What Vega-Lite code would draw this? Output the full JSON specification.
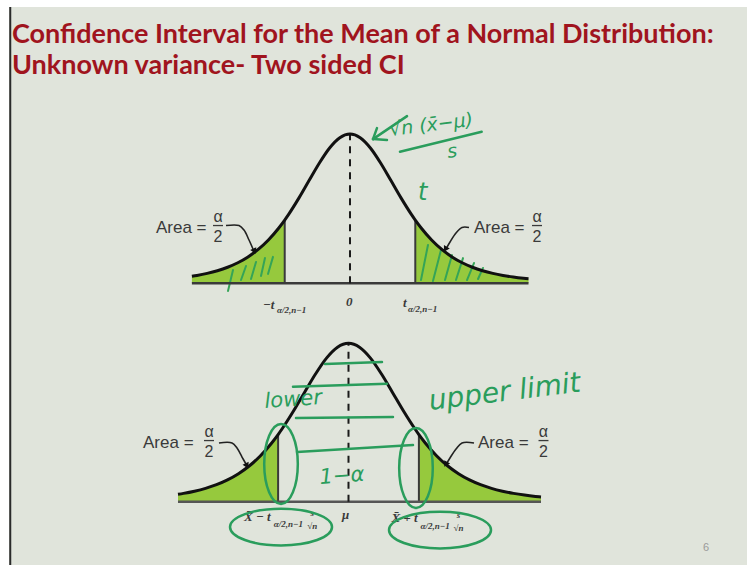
{
  "$schema": "https://vega.github.io/schema/vega-lite/v6.json",
  "width": 738,
  "height": 558,
  "autosize": {"type": "none"},
  "padding": {"left": 9, "top": 7, "right": 0, "bottom": 0},
  "background": "#ffffff",
  "config": {"view": {"fill": "#e0e4db", "stroke": null}},
  "title": {
    "text": ["Confidence Interval for the Mean of a Normal Distribution:", "Unknown variance- Two sided CI"],
    "anchor": "start",
    "frame": "group",
    "orient": "top",
    "offset": -95,
    "baseline": "alphabetic",
    "dx": 3,
    "font": "Lato",
    "fontSize": 27,
    "fontWeight": "bold",
    "color": "#a0141e",
    "lineHeight": 31
  },
  "datasets": {
    "curve": [
      {"x": -3.1, "y": 0.0468}, {"x": -3.0, "y": 0.0525}, {"x": -2.8, "y": 0.0664}, {"x": -2.6, "y": 0.0843},
      {"x": -2.4, "y": 0.1075}, {"x": -2.2, "y": 0.1377}, {"x": -2.0, "y": 0.1768}, {"x": -1.8, "y": 0.2269},
      {"x": -1.6, "y": 0.2903}, {"x": -1.4, "y": 0.369}, {"x": -1.28, "y": 0.4239}, {"x": -1.2, "y": 0.4636},
      {"x": -1.0, "y": 0.5724}, {"x": -0.8, "y": 0.69}, {"x": -0.6, "y": 0.8062}, {"x": -0.4, "y": 0.9066},
      {"x": -0.2, "y": 0.9754}, {"x": 0, "y": 1}, {"x": 0.2, "y": 0.9754}, {"x": 0.4, "y": 0.9066},
      {"x": 0.6, "y": 0.8062}, {"x": 0.8, "y": 0.69}, {"x": 1.0, "y": 0.5724}, {"x": 1.2, "y": 0.4636},
      {"x": 1.28, "y": 0.4239}, {"x": 1.4, "y": 0.369}, {"x": 1.6, "y": 0.2903}, {"x": 1.8, "y": 0.2269},
      {"x": 2.0, "y": 0.1768}, {"x": 2.2, "y": 0.1377}, {"x": 2.4, "y": 0.1075}, {"x": 2.6, "y": 0.0843},
      {"x": 2.8, "y": 0.0664}, {"x": 3.0, "y": 0.0525}, {"x": 3.2, "y": 0.0418}, {"x": 3.4, "y": 0.0335},
      {"x": 3.5, "y": 0.0301}
    ],
    "topSegments": [
      {"kind": "cut", "x": -1.28, "y": 0, "x2": -1.28, "y2": 0.4239},
      {"kind": "cut", "x": 1.28, "y": 0, "x2": 1.28, "y2": 0.4239},
      {"kind": "base", "x": -3.1, "y": 0, "x2": 3.5, "y2": 0},
      {"kind": "center", "x": 0, "y": 0, "x2": 0, "y2": 1},
      {"kind": "bar", "x": -2.686, "y": 0.387, "x2": -2.49, "y2": 0.387},
      {"kind": "bar", "x": 3.569, "y": 0.387, "x2": 3.765, "y2": 0.387},
      {"kind": "hatch", "x": -2.392, "y": -0.052, "x2": -2.294, "y2": 0.089},
      {"kind": "hatch", "x": -2.137, "y": 0.022, "x2": -2.039, "y2": 0.116},
      {"kind": "hatch", "x": -1.941, "y": 0.029, "x2": -1.843, "y2": 0.143},
      {"kind": "hatch", "x": -1.745, "y": 0.049, "x2": -1.667, "y2": 0.17},
      {"kind": "hatch", "x": -1.608, "y": 0.063, "x2": -1.51, "y2": 0.177},
      {"kind": "hatch", "x": 1.392, "y": 0.022, "x2": 1.529, "y2": 0.257},
      {"kind": "hatch", "x": 1.627, "y": 0.015, "x2": 1.784, "y2": 0.223},
      {"kind": "hatch", "x": 1.863, "y": 0.022, "x2": 2.0, "y2": 0.189},
      {"kind": "hatch", "x": 2.078, "y": 0.022, "x2": 2.216, "y2": 0.169},
      {"kind": "hatch", "x": 2.294, "y": 0.022, "x2": 2.431, "y2": 0.136},
      {"kind": "hatch", "x": 2.51, "y": 0.029, "x2": 2.608, "y2": 0.103},
      {"kind": "pen", "x": 0.98, "y": 0.881, "x2": 2.582, "y2": 1.015},
      {"kind": "pen", "x": 1.118, "y": 1.12, "x2": 0.451, "y2": 0.966},
      {"kind": "pen", "x": 0.451, "y": 0.966, "x2": 0.529, "y2": 1.04},
      {"kind": "pen", "x": 0.451, "y": 0.966, "x2": 0.725, "y2": 0.96}
    ],
    "topLeaders": [
      {"side": "left", "i": 0, "x": -2.431, "y": 0.387},
      {"side": "left", "i": 1, "x": -2.176, "y": 0.387},
      {"side": "left", "i": 2, "x": -2.078, "y": 0.357},
      {"side": "left", "i": 3, "x": -1.98, "y": 0.29},
      {"side": "left", "i": 4, "x": -1.902, "y": 0.23},
      {"side": "right", "i": 0, "x": 2.333, "y": 0.374},
      {"side": "right", "i": 1, "x": 2.196, "y": 0.374},
      {"side": "right", "i": 2, "x": 2.078, "y": 0.337},
      {"side": "right", "i": 3, "x": 1.961, "y": 0.277},
      {"side": "right", "i": 4, "x": 1.882, "y": 0.23}
    ],
    "topHeads": [
      {"side": "left", "x": -1.873, "y": 0.215},
      {"side": "right", "x": 1.87, "y": 0.228}
    ],
    "topText": [
      {"kind": "area", "label": "Area =", "x": -3.804, "y": 0.337},
      {"kind": "area", "label": "Area =", "x": 2.431, "y": 0.337},
      {"kind": "frac", "label": "α", "x": -2.588, "y": 0.411},
      {"kind": "frac", "label": "2", "x": -2.588, "y": 0.277},
      {"kind": "frac", "label": "α", "x": 3.667, "y": 0.411},
      {"kind": "frac", "label": "2", "x": 3.667, "y": 0.277},
      {"kind": "math", "label": "−t", "x": -1.706, "y": -0.172},
      {"kind": "math", "label": "0", "x": -0.078, "y": -0.152},
      {"kind": "math", "label": "t", "x": 1.039, "y": -0.159},
      {"kind": "sub", "label": "α/2,n−1", "x": -1.431, "y": -0.199},
      {"kind": "sub", "label": "α/2,n−1", "x": 1.137, "y": -0.192},
      {"kind": "pen", "label": "√n (x̄−μ)", "x": 0.784, "y": 0.987},
      {"kind": "pen", "label": "s", "x": 1.922, "y": 0.839},
      {"kind": "penBig", "label": "t", "x": 1.333, "y": 0.558}
    ],
    "bottomSegments": [
      {"kind": "frame", "x": -6.15, "y": -0.3996, "x2": -6.15, "y2": 3.1231},
      {"kind": "cut", "x": -1.28, "y": 0, "x2": -1.28, "y2": 0.4239},
      {"kind": "cut", "x": 1.28, "y": 0, "x2": 1.28, "y2": 0.4239},
      {"kind": "base", "x": -3.1, "y": 0, "x2": 3.5, "y2": 0},
      {"kind": "center", "x": 0, "y": 0, "x2": 0, "y2": 1},
      {"kind": "bar", "x": -2.627, "y": 0.386, "x2": -2.445, "y2": 0.386},
      {"kind": "bar", "x": 3.455, "y": 0.386, "x2": 3.636, "y2": 0.386},
      {"kind": "pen", "x": -0.427, "y": 0.869, "x2": 0.609, "y2": 0.882},
      {"kind": "pen", "x": -1.009, "y": 0.726, "x2": 0.7, "y2": 0.745},
      {"kind": "pen", "x": -0.955, "y": 0.528, "x2": 0.809, "y2": 0.535},
      {"kind": "pen", "x": -0.936, "y": 0.314, "x2": 1.173, "y2": 0.358}
    ],
    "bottomLeaders": [
      {"side": "left", "i": 0, "x": -2.355, "y": 0.371},
      {"side": "left", "i": 1, "x": -2.118, "y": 0.371},
      {"side": "left", "i": 2, "x": -2.027, "y": 0.339},
      {"side": "left", "i": 3, "x": -1.936, "y": 0.282},
      {"side": "left", "i": 4, "x": -1.864, "y": 0.238},
      {"side": "right", "i": 0, "x": 2.282, "y": 0.371},
      {"side": "right", "i": 1, "x": 2.064, "y": 0.371},
      {"side": "right", "i": 2, "x": 1.955, "y": 0.333},
      {"side": "right", "i": 3, "x": 1.845, "y": 0.276},
      {"side": "right", "i": 4, "x": 1.791, "y": 0.245}
    ],
    "bottomHeads": [
      {"side": "left", "x": -1.848, "y": 0.226},
      {"side": "right", "x": 1.768, "y": 0.236}
    ],
    "bottomText": [
      {"kind": "area", "label": "Area =", "x": -3.736, "y": 0.339},
      {"kind": "area", "label": "Area =", "x": 2.355, "y": 0.339},
      {"kind": "frac", "label": "α", "x": -2.536, "y": 0.408},
      {"kind": "frac", "label": "2", "x": -2.536, "y": 0.282},
      {"kind": "frac", "label": "α", "x": 3.545, "y": 0.408},
      {"kind": "frac", "label": "2", "x": 3.545, "y": 0.282},
      {"kind": "math", "label": "X̄ − t", "x": -1.9, "y": -0.12},
      {"kind": "math", "label": "μ", "x": -0.118, "y": -0.109},
      {"kind": "math", "label": "X̄ + t", "x": 0.78, "y": -0.13},
      {"kind": "sub", "label": "α/2,n−1", "x": -1.36, "y": -0.16},
      {"kind": "sub", "label": "α/2,n−1", "x": 1.31, "y": -0.172},
      {"kind": "tiny", "label": "s", "x": -0.66, "y": -0.09},
      {"kind": "tiny", "label": "√n", "x": -0.66, "y": -0.17},
      {"kind": "tiny", "label": "s", "x": 2.0, "y": -0.103},
      {"kind": "tiny", "label": "√n", "x": 2.0, "y": -0.183},
      {"kind": "pen", "label": "lower", "x": -1.518, "y": 0.592},
      {"kind": "pen", "label": "1−α", "x": -0.518, "y": 0.112},
      {"kind": "penBig", "label": "upper limit", "x": 1.482, "y": 0.579},
      {"kind": "page", "label": "6", "x": 6.5, "y": -0.311}
    ],
    "ellipses": [
      {"kind": "tall", "x": -1.227, "y": 0.238},
      {"kind": "tall", "x": 1.227, "y": 0.213},
      {"kind": "wide", "x": -1.227, "y": -0.16},
      {"kind": "wide", "x": 1.664, "y": -0.179}
    ]
  },
  "layer": [
    {
      "encoding": {
        "x": {"field": "x", "type": "quantitative", "axis": null, "scale": {"domain": [-6.686, 7.784], "nice": false, "zero": false}},
        "y": {"field": "y", "type": "quantitative", "axis": null, "scale": {"domain": [-1.887, 1.851], "nice": false, "zero": false}}
      },
      "layer": [
        {"data": {"name": "curve"}, "transform": [{"filter": "datum.x <= -1.28"}], "mark": {"type": "area", "fill": "#96c93d", "opacity": 1, "interpolate": "monotone"}},
        {"data": {"name": "curve"}, "transform": [{"filter": "datum.x >= 1.28"}], "mark": {"type": "area", "fill": "#96c93d", "opacity": 1, "interpolate": "monotone"}},
        {"data": {"name": "topSegments"}, "transform": [{"filter": "datum.kind === 'hatch'"}], "mark": {"type": "rule", "color": "#34a457", "strokeWidth": 2, "strokeCap": "round"}, "encoding": {"x2": {"field": "x2"}, "y2": {"field": "y2"}}},
        {"data": {"name": "topSegments"}, "transform": [{"filter": "datum.kind === 'cut'"}], "mark": {"type": "rule", "color": "#3a3a3a", "strokeWidth": 2}, "encoding": {"x2": {"field": "x2"}, "y2": {"field": "y2"}}},
        {"data": {"name": "topSegments"}, "transform": [{"filter": "datum.kind === 'base'"}], "mark": {"type": "rule", "color": "#3a3a3a", "strokeWidth": 2.5}, "encoding": {"x2": {"field": "x2"}, "y2": {"field": "y2"}}},
        {"data": {"name": "topSegments"}, "transform": [{"filter": "datum.kind === 'center'"}], "mark": {"type": "rule", "color": "#1a1a1a", "strokeWidth": 2, "strokeDash": [7, 6]}, "encoding": {"x2": {"field": "x2"}, "y2": {"field": "y2"}}},
        {"data": {"name": "curve"}, "mark": {"type": "line", "color": "#111111", "strokeWidth": 3, "interpolate": "monotone"}},
        {"data": {"name": "topSegments"}, "transform": [{"filter": "datum.kind === 'bar'"}], "mark": {"type": "rule", "color": "#3a3a3a", "strokeWidth": 1.3}, "encoding": {"x2": {"field": "x2"}, "y2": {"field": "y2"}}},
        {"data": {"name": "topLeaders"}, "mark": {"type": "line", "color": "#222222", "strokeWidth": 1.6, "interpolate": "catmull-rom"}, "encoding": {"detail": {"field": "side"}, "order": {"field": "i"}}},
        {"data": {"name": "topHeads"}, "transform": [{"filter": "datum.side === 'left'"}], "mark": {"type": "point", "shape": "triangle-down", "filled": true, "color": "#111111", "size": 45, "angle": -25, "opacity": 1}},
        {"data": {"name": "topHeads"}, "transform": [{"filter": "datum.side === 'right'"}], "mark": {"type": "point", "shape": "triangle-down", "filled": true, "color": "#111111", "size": 45, "angle": 30, "opacity": 1}},
        {"data": {"name": "topText"}, "transform": [{"filter": "datum.kind === 'area'"}], "mark": {"type": "text", "align": "left", "baseline": "alphabetic", "font": "Liberation Sans", "fontSize": 17, "color": "#3a3a3a"}, "encoding": {"text": {"field": "label"}}},
        {"data": {"name": "topText"}, "transform": [{"filter": "datum.kind === 'frac'"}], "mark": {"type": "text", "align": "center", "baseline": "alphabetic", "font": "Liberation Sans", "fontSize": 16, "color": "#3a3a3a"}, "encoding": {"text": {"field": "label"}}},
        {"data": {"name": "topText"}, "transform": [{"filter": "datum.kind === 'math'"}], "mark": {"type": "text", "align": "left", "baseline": "alphabetic", "font": "Liberation Serif", "fontSize": 13, "fontStyle": "italic", "fontWeight": "bold", "color": "#3a3a3a"}, "encoding": {"text": {"field": "label"}}},
        {"data": {"name": "topText"}, "transform": [{"filter": "datum.kind === 'sub'"}], "mark": {"type": "text", "align": "left", "baseline": "alphabetic", "font": "Liberation Serif", "fontSize": 9, "fontStyle": "italic", "fontWeight": "bold", "color": "#3a3a3a"}, "encoding": {"text": {"field": "label"}}},
        {"data": {"name": "topText"}, "transform": [{"filter": "datum.kind === 'pen'"}], "mark": {"type": "text", "align": "left", "baseline": "alphabetic", "font": "DejaVu Sans", "fontSize": 19, "fontStyle": "italic", "color": "#2a9d5c", "angle": -7}, "encoding": {"text": {"field": "label"}}},
        {"data": {"name": "topText"}, "transform": [{"filter": "datum.kind === 'penBig'"}], "mark": {"type": "text", "align": "left", "baseline": "alphabetic", "font": "DejaVu Sans", "fontSize": 24, "fontStyle": "italic", "color": "#2a9d5c"}, "encoding": {"text": {"field": "label"}}},
        {"data": {"name": "topSegments"}, "transform": [{"filter": "datum.kind === 'pen'"}], "mark": {"type": "rule", "color": "#2a9d5c", "strokeWidth": 2.5, "strokeCap": "round"}, "encoding": {"x2": {"field": "x2"}, "y2": {"field": "y2"}}}
      ]
    },
    {
      "encoding": {
        "x": {"field": "x", "type": "quantitative", "axis": null, "scale": {"domain": [-6.1727, 7.2455], "nice": false, "zero": false}},
        "y": {"field": "y", "type": "quantitative", "axis": null, "scale": {"domain": [-0.3996, 3.1231], "nice": false, "zero": false}}
      },
      "layer": [
        {"data": {"name": "bottomSegments"}, "transform": [{"filter": "datum.kind === 'frame'"}], "mark": {"type": "rule", "color": "#2b2b2b", "strokeWidth": 2}, "encoding": {"x2": {"field": "x2"}, "y2": {"field": "y2"}}},
        {"data": {"name": "curve"}, "transform": [{"filter": "datum.x <= -1.28"}], "mark": {"type": "area", "fill": "#96c93d", "opacity": 1, "interpolate": "monotone"}},
        {"data": {"name": "curve"}, "transform": [{"filter": "datum.x >= 1.28"}], "mark": {"type": "area", "fill": "#96c93d", "opacity": 1, "interpolate": "monotone"}},
        {"data": {"name": "bottomSegments"}, "transform": [{"filter": "datum.kind === 'cut'"}], "mark": {"type": "rule", "color": "#3a3a3a", "strokeWidth": 2}, "encoding": {"x2": {"field": "x2"}, "y2": {"field": "y2"}}},
        {"data": {"name": "bottomSegments"}, "transform": [{"filter": "datum.kind === 'base'"}], "mark": {"type": "rule", "color": "#555555", "strokeWidth": 2.5}, "encoding": {"x2": {"field": "x2"}, "y2": {"field": "y2"}}},
        {"data": {"name": "bottomSegments"}, "transform": [{"filter": "datum.kind === 'center'"}], "mark": {"type": "rule", "color": "#1a1a1a", "strokeWidth": 2, "strokeDash": [7, 6]}, "encoding": {"x2": {"field": "x2"}, "y2": {"field": "y2"}}},
        {"data": {"name": "curve"}, "mark": {"type": "line", "color": "#111111", "strokeWidth": 3, "interpolate": "monotone"}},
        {"data": {"name": "bottomSegments"}, "transform": [{"filter": "datum.kind === 'bar'"}], "mark": {"type": "rule", "color": "#3a3a3a", "strokeWidth": 1.3}, "encoding": {"x2": {"field": "x2"}, "y2": {"field": "y2"}}},
        {"data": {"name": "bottomLeaders"}, "mark": {"type": "line", "color": "#222222", "strokeWidth": 1.6, "interpolate": "catmull-rom"}, "encoding": {"detail": {"field": "side"}, "order": {"field": "i"}}},
        {"data": {"name": "bottomHeads"}, "transform": [{"filter": "datum.side === 'left'"}], "mark": {"type": "point", "shape": "triangle-down", "filled": true, "color": "#111111", "size": 45, "angle": -25, "opacity": 1}},
        {"data": {"name": "bottomHeads"}, "transform": [{"filter": "datum.side === 'right'"}], "mark": {"type": "point", "shape": "triangle-down", "filled": true, "color": "#111111", "size": 45, "angle": 30, "opacity": 1}},
        {"data": {"name": "bottomText"}, "transform": [{"filter": "datum.kind === 'area'"}], "mark": {"type": "text", "align": "left", "baseline": "alphabetic", "font": "Liberation Sans", "fontSize": 17, "color": "#3a3a3a"}, "encoding": {"text": {"field": "label"}}},
        {"data": {"name": "bottomText"}, "transform": [{"filter": "datum.kind === 'frac'"}], "mark": {"type": "text", "align": "center", "baseline": "alphabetic", "font": "Liberation Sans", "fontSize": 16, "color": "#3a3a3a"}, "encoding": {"text": {"field": "label"}}},
        {"data": {"name": "bottomText"}, "transform": [{"filter": "datum.kind === 'math'"}], "mark": {"type": "text", "align": "left", "baseline": "alphabetic", "font": "Liberation Serif", "fontSize": 13, "fontStyle": "italic", "fontWeight": "bold", "color": "#3a3a3a"}, "encoding": {"text": {"field": "label"}}},
        {"data": {"name": "bottomText"}, "transform": [{"filter": "datum.kind === 'sub'"}], "mark": {"type": "text", "align": "left", "baseline": "alphabetic", "font": "Liberation Serif", "fontSize": 9, "fontStyle": "italic", "fontWeight": "bold", "color": "#3a3a3a"}, "encoding": {"text": {"field": "label"}}},
        {"data": {"name": "bottomText"}, "transform": [{"filter": "datum.kind === 'tiny'"}], "mark": {"type": "text", "align": "center", "baseline": "alphabetic", "font": "Liberation Serif", "fontSize": 9, "fontStyle": "italic", "fontWeight": "bold", "color": "#3a3a3a"}, "encoding": {"text": {"field": "label"}}},
        {"data": {"name": "bottomText"}, "transform": [{"filter": "datum.kind === 'page'"}], "mark": {"type": "text", "align": "center", "baseline": "alphabetic", "font": "Liberation Sans", "fontSize": 11, "color": "#9a9a9a"}, "encoding": {"text": {"field": "label"}}},
        {"data": {"name": "bottomSegments"}, "transform": [{"filter": "datum.kind === 'pen'"}], "mark": {"type": "rule", "color": "#2a9d5c", "strokeWidth": 2.5, "strokeCap": "round"}, "encoding": {"x2": {"field": "x2"}, "y2": {"field": "y2"}}},
        {"data": {"name": "ellipses"}, "transform": [{"filter": "datum.kind === 'tall'"}], "mark": {"type": "point", "shape": "M0,-1A0.42,1 0 1,1 0,1A0.42,1 0 1,1 0,-1Z", "size": 6400, "filled": false, "stroke": "#2a9d5c", "strokeWidth": 2.5, "opacity": 1}},
        {"data": {"name": "ellipses"}, "transform": [{"filter": "datum.kind === 'wide'"}], "mark": {"type": "point", "shape": "M-1,0A1,0.36 0 1,1 1,0A1,0.36 0 1,1 -1,0Z", "size": 10404, "filled": false, "stroke": "#2a9d5c", "strokeWidth": 2.5, "opacity": 1}},
        {"data": {"name": "bottomText"}, "transform": [{"filter": "datum.kind === 'pen'"}], "mark": {"type": "text", "align": "left", "baseline": "alphabetic", "font": "DejaVu Sans", "fontSize": 21, "fontStyle": "italic", "color": "#2a9d5c", "angle": -4}, "encoding": {"text": {"field": "label"}}},
        {"data": {"name": "bottomText"}, "transform": [{"filter": "datum.kind === 'penBig'"}], "mark": {"type": "text", "align": "left", "baseline": "alphabetic", "font": "DejaVu Sans", "fontSize": 28, "fontStyle": "italic", "color": "#2a9d5c", "angle": -7}, "encoding": {"text": {"field": "label"}}}
      ]
    }
  ],
  "resolve": {"scale": {"x": "independent", "y": "independent"}}
}
